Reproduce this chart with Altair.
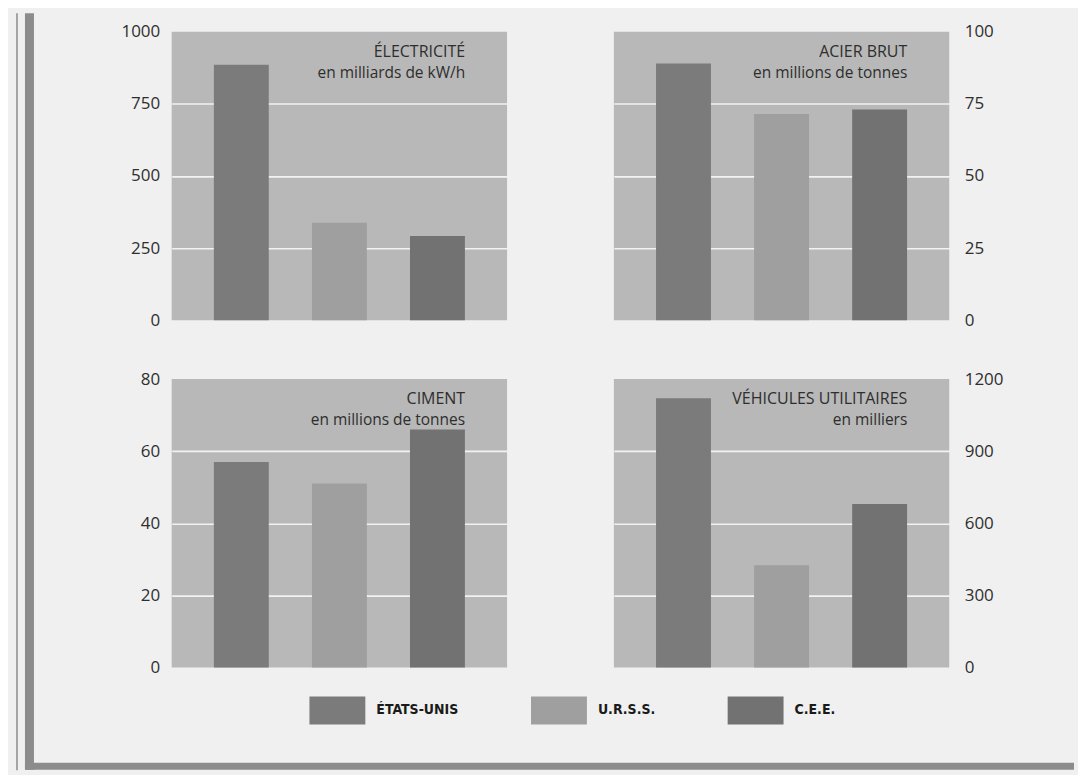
import altair as alt
import pandas as pd

# ---- data ----
pays = ["ÉTATS-UNIS", "U.R.S.S.", "C.E.E."]
electricite = [885, 338, 292]      # milliards de kW/h
acier_brut = [89, 71.5, 73]        # millions de tonnes
ciment = [57, 51, 66]              # millions de tonnes
vehicules = [1120, 425, 680]       # milliers

ticks_elec = [0, 250, 500, 750, 1000]
ticks_acier = [0, 25, 50, 75, 100]
ticks_ciment = [0, 20, 40, 60, 80]
ticks_vehic = [0, 300, 600, 900, 1200]

titres = ["ÉLECTRICITÉ", "ACIER BRUT", "CIMENT", "VÉHICULES UTILITAIRES"]
unites = ["en milliards de kW/h", "en millions de tonnes", "en millions de tonnes", "en milliers"]

couleurs = ["#7b7b7b", "#9f9f9f", "#727272"]

W, H = 336, 289
FONT = "Open Sans"
TXT = "#2e2e2e"
NARROW = "'Liberation Sans Narrow', 'DejaVu Sans Condensed', 'Roboto Condensed', 'Liberation Sans', sans-serif"

legende = alt.Legend(
    orient="none", legendX=138, legendY=652, direction="horizontal", title=None,
    symbolType="M-1,-0.5H1V0.5H-1Z", symbolSize=3136, symbolStrokeWidth=0,
    symbolOpacity=1, labelFont=NARROW, labelFontWeight="bold",
    labelFontSize=14, labelColor="#1a1a1a", labelOffset=11, columnPadding=72,
    padding=0,
)


def panneau(titre, unite, valeurs, ticks, orient, cadre=False):
    df = pd.DataFrame({"pays": pays, "valeur": valeurs})
    top = ticks[-1]
    bars = alt.Chart(df).mark_bar().encode(
        x=alt.X("pays:N", sort=pays, axis=None,
                scale=alt.Scale(paddingInner=0.44, paddingOuter=0.43)),
        y=alt.Y("valeur:Q",
                scale=alt.Scale(domain=[0, top], nice=False, zero=True),
                axis=alt.Axis(
                    orient=orient, values=ticks, title=None, ticks=False,
                    domain=False, format="d",
                    labelPadding=12 if orient == "left" else 15,
                    labelFont=FONT, labelFontSize=17, labelColor=TXT,
                    grid=True, gridColor="#f2f2f2", gridWidth=1.6,
                    gridOpacity={"condition": {"test": f"datum.value == 0 || datum.value == {top}", "value": 0}, "value": 1},
                )),
        color=alt.Color("pays:N", sort=pays,
                        scale=alt.Scale(domain=pays, range=couleurs),
                        legend=legende),
    )
    tdf = pd.DataFrame({"t1": [titre], "t2": [unite]})
    t1 = alt.Chart(tdf).mark_text(align="right", baseline="alphabetic", font=FONT,
                                  fontSize=16, color=TXT).encode(
        x=alt.value(W - 42), y=alt.value(25), text="t1:N")
    t2 = alt.Chart(tdf).mark_text(align="right", baseline="alphabetic", font=FONT,
                                  fontSize=15.5, color=TXT).encode(
        x=alt.value(W - 42), y=alt.value(46), text="t2:N")
    layers = [bars, t1, t2]
    if cadre:
        fdf = pd.DataFrame({"k": [0]})
        gris = "#8c8c8c"
        thin = alt.Chart(fdf).mark_rule(color=gris, strokeWidth=1.5).encode(
            x=alt.value(-155), y=alt.value(-366.5), y2=alt.value(392))
        thick = alt.Chart(fdf).mark_rule(color=gris, strokeWidth=9).encode(
            x=alt.value(-142.5), y=alt.value(-366.5), y2=alt.value(391.5))
        bottom = alt.Chart(fdf).mark_rule(color=gris, strokeWidth=7).encode(
            y=alt.value(388), x=alt.value(-147), x2=alt.value(904))
        layers = [thin, thick, bottom] + layers
    return alt.layer(*layers).properties(width=W, height=H)


p1 = panneau(titres[0], unites[0], electricite, ticks_elec, "left")
p2 = panneau(titres[1], unites[1], acier_brut, ticks_acier, "right")
p3 = panneau(titres[2], unites[2], ciment, ticks_ciment, "left", cadre=True)
p4 = panneau(titres[3], unites[3], vehicules, ticks_vehic, "right")

chart = alt.concat(
    p1, p2, p3, p4, columns=2,
    spacing={"row": 59, "column": 107}, bounds="flush",
).properties(
    padding={"left": 8, "top": 0, "right": 0, "bottom": 0},
    background="#f0f0f0",
).configure_view(
    fill="#b8b8b8", stroke=None,
)

chart.save("out.html", embed_options={"renderer": "svg", "actions": False})
